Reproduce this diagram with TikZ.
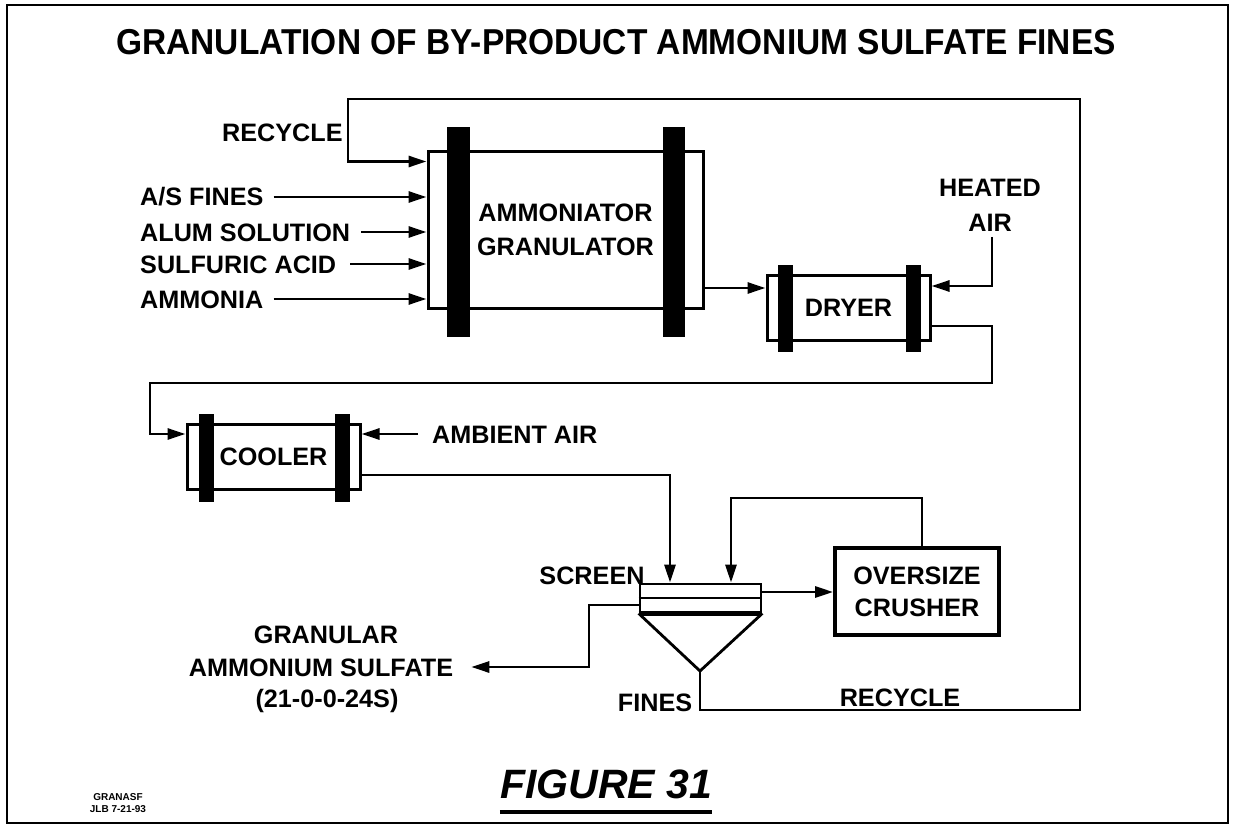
\documentclass[tikz,border=0pt]{standalone}
\usepackage{fontspec}
\setmainfont{Liberation Sans}
\newfontfamily\titlefont[FakeStretch=0.93]{Liberation Sans}
\usetikzlibrary{arrows.meta}
\newcommand{\lblfont}{\fontsize{25.2}{34}\selectfont\bfseries}
\begin{document}
\begin{tikzpicture}[x=1pt,y=-1pt,
  lbl/.style={font=\lblfont, inner sep=0pt},
  unit/.style={draw, line width=3pt, fill=white, inner sep=0pt, font=\lblfont, align=center},
  band/.style={fill=black, draw=none, inner sep=0pt},
  flow/.style={line width=2.8pt, -{Triangle[length=18pt,width=11pt]}},
  pipe/.style={line width=2.8pt}]
\useasboundingbox (0,0) rectangle (1234,829);
\draw[line width=2.8pt] (7,5) rectangle (1228,823);

% title
\node[font=\titlefont\fontsize{36}{42}\selectfont\bfseries, inner sep=0pt] (title) at (616,42) {GRANULATION OF BY-PRODUCT AMMONIUM SULFATE FINES};

% ammoniator granulator
\node[unit, minimum width=275pt, minimum height=156pt] (amm) at (565.5,230) {AMMONIATOR\\GRANULATOR};
\node[band, minimum width=23pt, minimum height=210pt] (amml) at (458,232) {};
\node[band, minimum width=22pt, minimum height=210pt] (ammr) at (674,232) {};

% dryer
\node[unit, minimum width=163pt, minimum height=65pt] (dry) at (848.5,307.5) {DRYER};
\node[band, minimum width=15pt, minimum height=87pt] (dryl) at (785.5,308.5) {};
\node[band, minimum width=15pt, minimum height=87pt] (dryr) at (913.5,308.5) {};

% cooler
\node[unit, minimum width=173pt, minimum height=65pt] (cool) at (273.5,456.5) {COOLER};
\node[band, minimum width=15pt, minimum height=88pt] (cooll) at (206.5,458) {};
\node[band, minimum width=15pt, minimum height=88pt] (coolr) at (342.5,458) {};

% screen
\node[draw, line width=2.8pt, minimum width=121pt, minimum height=28pt, inner sep=0pt] (scr) at (700.5,598) {};
\draw[pipe] (scr.west) -- (scr.east);
\draw[line width=4.5pt] (scr.south west) -- (scr.south east);
\coordinate (apex) at (700,671);
\draw[pipe] (scr.south west) -- (apex) -- (scr.south east);

% crusher
\node[unit, line width=3.8pt, minimum width=164pt, minimum height=87pt, font=\fontsize{25.2}{32}\selectfont\bfseries] (cru) at (917,591.5) {OVERSIZE\\CRUSHER};

% labels
\node[lbl, anchor=base west] (rec1) at (222,142) {RECYCLE};
\node[lbl, anchor=base west] (asf) at (140,206) {A/S FINES};
\node[lbl, anchor=base west] (alum) at (140,241) {ALUM SOLUTION};
\node[lbl, anchor=base west] (sulf) at (140,273) {SULFURIC ACID};
\node[lbl, anchor=base west] (nh3) at (140,308) {AMMONIA};
\node[lbl, align=center, font=\fontsize{25.2}{35}\selectfont\bfseries] (hair) at (990,205) {HEATED\\AIR};
\node[lbl, anchor=base west] (amb) at (432,443) {AMBIENT AIR};
\node[lbl, anchor=base] (scrl) at (592,584) {SCREEN};
\node[lbl, anchor=base] (fines) at (655,711) {FINES};
\node[lbl, anchor=base] (rec2) at (900,706) {RECYCLE};
\node[lbl, anchor=base] (gran) at (326,643) {GRANULAR};
\node[lbl, anchor=base] (pas) at (321,676) {AMMONIUM SULFATE};
\node[lbl, anchor=base] (grade) at (327,707) {(21-0-0-24S)};

\node[font=\fontsize{41}{48}\selectfont\bfseries\itshape, inner sep=0pt, anchor=base] (fig) at (606,798) {FIGURE 31};
\draw[line width=4pt] ([yshift=-14pt]fig.base west) -- ([yshift=-14pt]fig.base east);
\node[font=\fontsize{10}{12}\selectfont\bfseries, align=center, inner sep=0pt] (code) at (118,803) {GRANASF\\JLB 7-21-93};

% feeds
\draw[flow] ([xshift=10pt,yshift=9pt]asf.base east) coordinate (t1) -- (t1 -| amm.west);
\draw[flow] ([xshift=11pt,yshift=9pt]alum.base east) coordinate (t2) -- (t2 -| amm.west);
\draw[flow] ([xshift=14pt,yshift=9pt]sulf.base east) coordinate (t3) -- (t3 -| amm.west);
\draw[flow] ([xshift=10pt,yshift=9pt]nh3.base east) coordinate (t4) -- (t4 -| amm.west);

% big recycle loop
\coordinate (rb) at (1080,710);
\coordinate (rl) at (348,99);
\draw[flow] (apex) |- (rb) |- (rl) |- ([yshift=-11pt]amm.north west);

% ammoniator -> dryer
\draw[flow] (amm.east |- 0,288) -- (dry.west |- 0,288);
% heated air
\coordinate (ha) at (992,237);
\draw[flow] (ha) |- (dry.east |- 0,286);
% dryer -> cooler
\coordinate (d1) at (992,383);
\coordinate (d2) at (150,383);
\draw[flow] (dry.east |- 0,326) -| (d1) -- (d2) |- (cool.west |- 0,434);
% ambient air
\draw[flow] ([xshift=-14pt,yshift=9pt]amb.base west) coordinate (t5) -- (t5 -| cool.east);
% cooler -> screen
\draw[flow] (cool.east |- 0,475) -| (scr.north -| 670,0);
% crusher recycle
\coordinate (cr) at (731,498);
\draw[flow] (cru.north -| 922,0) |- (cr) -- (cr |- scr.north);
% screen -> crusher
\draw[flow] (scr.east |- 0,592) -- (cru.west |- 0,592);
% product
\coordinate (p1) at (589,667);
\draw[flow] (scr.west |- 0,605) -| (p1) -- ([xshift=18pt,yshift=9pt]pas.base east);
\end{tikzpicture}
\end{document}
